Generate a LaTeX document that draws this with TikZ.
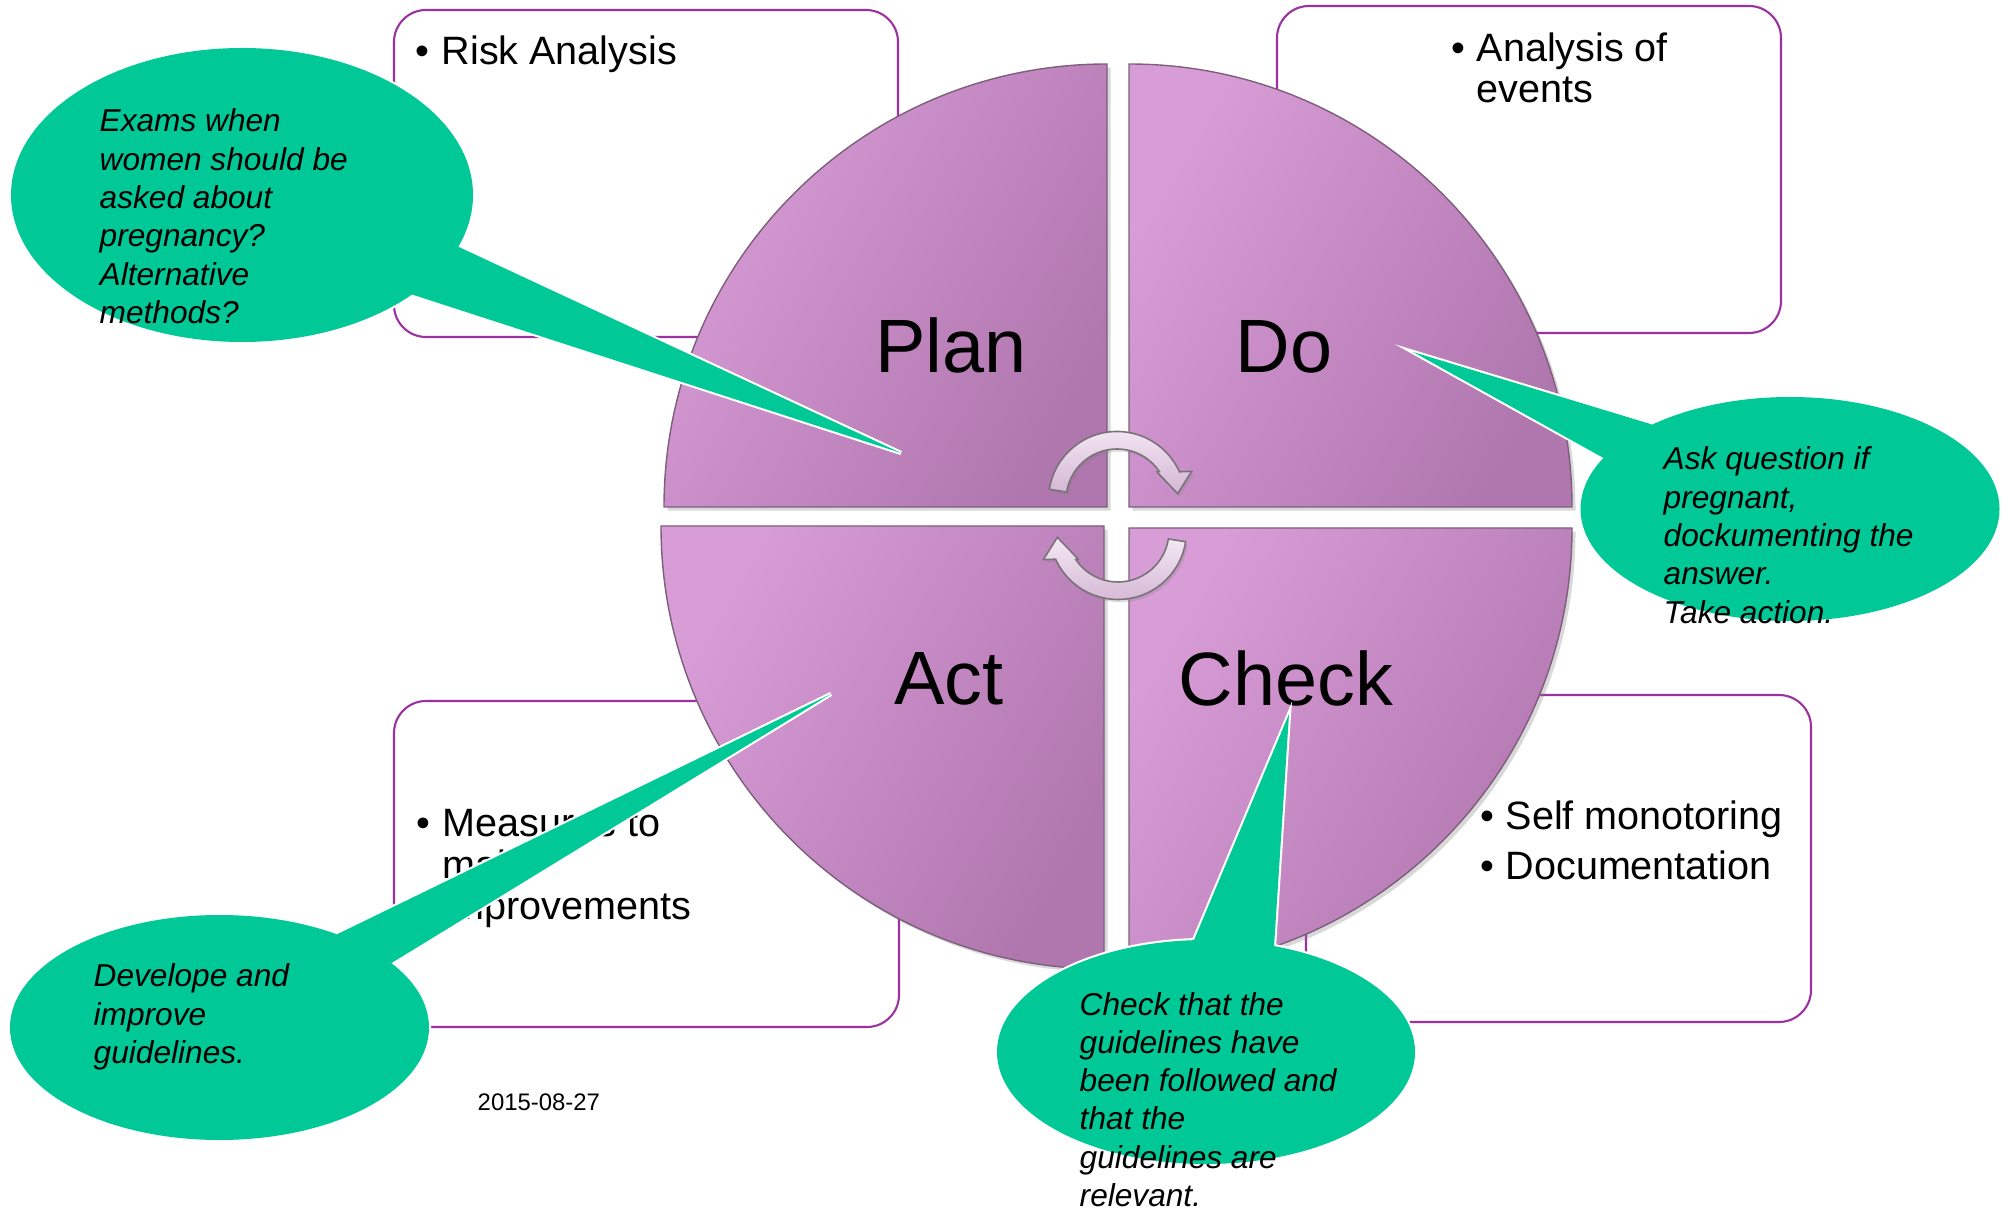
\documentclass[tikz,border=0pt]{standalone}
\usepackage{fontspec}
\setmainfont{Liberation Sans}
\usetikzlibrary{positioning, calc, shadows}

\definecolor{quadlight}{RGB}{216,156,214}
\definecolor{quaddark}{RGB}{176,118,174}
\definecolor{quadedge}{RGB}{125,95,125}
\definecolor{boxpurple}{RGB}{155,50,160}
\definecolor{callgreen}{RGB}{0,201,151}
\definecolor{arrowlight}{RGB}{244,232,244}
\definecolor{arrowdark}{RGB}{212,182,212}
\definecolor{arrowedge}{RGB}{120,115,120}

\newcommand{\textlines}[1]{\begin{tabular}[t]{@{}l@{}}#1\end{tabular}}
\newcommand{\itembullet}{\llap{\textbullet\hspace{.3em}}}

\begin{document}
\begin{tikzpicture}[
    x=0.01cm, y=-0.01cm,
    infobox/.style={draw=boxpurple, line width=0.6pt, fill=white, rounded corners=0.32cm},
    quadrant/.style={draw=quadedge, line width=0.4pt, top color=quadlight, bottom color=quaddark,
        shading angle=60, drop shadow={shadow xshift=1pt, shadow yshift=-1pt, opacity=0.3}},
    stagelabel/.style={anchor=base, inner sep=0pt, font=\fontsize{21.5}{24}\selectfont},
    boxtext/.style={anchor=base west, inner sep=0pt, font=\fontsize{11.25}{11.6}\selectfont},
    calltext/.style={anchor=base west, inner sep=0pt, font=\fontsize{9}{10.9}\selectfont\itshape},
    callfill/.style={fill=callgreen},
    calledge/.style={draw=white, line width=1.2pt},
    turnarrow/.style={draw=arrowedge, line width=0.45pt, top color=arrowlight, bottom color=arrowdark,
        drop shadow={shadow xshift=0.6pt, shadow yshift=-0.8pt, opacity=0.25}},
    cyclearrow/.pic={
      \path[turnarrow] (-171:68.5) arc[start angle=-171, end angle=-24.3, radius=68.5]
        -- (-21:80) -- (-6:61) -- (-35:48.8) -- (-34:51)
        arc[start angle=-34, end angle=-171, radius=51] -- cycle;
    }
]
  \useasboundingbox (0,0) rectangle (2012,1210);

  % Boxes
  \draw[infobox] (394,10) rectangle (898,337);
  \draw[infobox] (1277,6) rectangle (1781,333);
  \draw[infobox] (394,701) rectangle (899,1027);
  \draw[infobox] (1306,695) rectangle (1811,1022);

  \node[boxtext] (riskText) at (441,65) {\textlines{\itembullet Risk Analysis}};
  \node[boxtext] (eventText) at (1476,62) {\textlines{\itembullet Analysis of\\events}};
  \node[boxtext, font=\fontsize{11.25}{11.8}\selectfont] (measureText) at (442,837)
    {\textlines{\itembullet Measures to\\make\\improvements}};
  \node[boxtext, font=\fontsize{11.25}{14.2}\selectfont] (monitorText) at (1505,830)
    {\textlines{\itembullet Self monotoring\\\itembullet Documentation}};

  % Quadrants
  \path[quadrant] (1107,507) -- (1107,64) arc[start angle=-90, end angle=-180, radius=443] -- cycle;
  \path[quadrant] (1129,507) -- (1129,64) arc[start angle=-90, end angle=0, radius=443] -- cycle;
  \path[quadrant] (1104,526) -- (661,526) arc[start angle=180, end angle=90, radius=443] -- cycle;
  \path[quadrant] (1129,528) -- (1129,971) arc[start angle=90, end angle=0, radius=443] -- cycle;

  % Cycle arrows
  \pic at (1117,500) {cyclearrow};
  \pic[rotate=180] at (1118,531) {cyclearrow};

  \node[stagelabel] (plan) at (951,373) {Plan};
  \node[stagelabel] (do) at (1284,373) {Do};
  \node[stagelabel] (act) at (949,705) {Act};
  \node[stagelabel] (check) at (1286,706) {Check};

  % Callouts
  \coordinate (planBubble) at (242,195);
  \coordinate (planTip) at (901,453);
  \draw[calledge] (planBubble) ellipse [x radius=231, y radius=147];
  \draw[calledge] ($(planBubble)+(20.6:231 and 147)$) -- (planTip) -- ($(planBubble)+(42.6:231 and 147)$);
  \fill[callfill] (planBubble) ellipse [x radius=231, y radius=147];
  \fill[callfill] ($(planBubble)+(20.6:231 and 147)$) -- (planTip) -- ($(planBubble)+(42.6:231 and 147)$) -- cycle;

  \coordinate (doBubble) at (1790,509);
  \coordinate (doTip) at (1413,352);
  \draw[calledge] (doBubble) ellipse [x radius=209.5, y radius=112];
  \draw[calledge] ($(doBubble)+(228.9:209.5 and 112)$) -- (doTip) -- ($(doBubble)+(207.1:209.5 and 112)$);
  \fill[callfill] (doBubble) ellipse [x radius=209.5, y radius=112];
  \fill[callfill] ($(doBubble)+(228.9:209.5 and 112)$) -- (doTip) -- ($(doBubble)+(207.1:209.5 and 112)$) -- cycle;

  \coordinate (actBubble) at (219.5,1027.5);
  \coordinate (actTip) at (831,694);
  \draw[calledge] (actBubble) ellipse [x radius=209.5, y radius=112.5];
  \draw[calledge] ($(actBubble)+(-55.9:209.5 and 112.5)$) -- (actTip) -- ($(actBubble)+(-34.9:209.5 and 112.5)$);
  \fill[callfill] (actBubble) ellipse [x radius=209.5, y radius=112.5];
  \fill[callfill] ($(actBubble)+(-55.9:209.5 and 112.5)$) -- (actTip) -- ($(actBubble)+(-34.9:209.5 and 112.5)$) -- cycle;

  \coordinate (checkBubble) at (1206,1052);
  \coordinate (checkTip) at (1289,714);
  \draw[calledge] (checkBubble) ellipse [x radius=209, y radius=112];
  \draw[calledge] ($(checkBubble)+(-93.3:209 and 112)$) -- (checkTip) -- ($(checkBubble)+(-71:209 and 112)$);
  \fill[callfill] (checkBubble) ellipse [x radius=209, y radius=112];
  \fill[callfill] ($(checkBubble)+(-93.3:209 and 112)$) -- (checkTip) -- ($(checkBubble)+(-71:209 and 112)$) -- cycle;

  \node[calltext] (planNote) at (99,132)
    {\textlines{Exams when\\women should be\\asked about\\pregnancy?\\Alternative\\methods?}};
  \node[calltext] (doNote) at (1663,470)
    {\textlines{Ask question if\\pregnant,\\dockumenting the\\answer.\\Take action.}};
  \node[calltext] (actNote) at (93,987)
    {\textlines{Develope and\\improve\\guidelines.}};
  \node[calltext] (checkNote) at (1079,1015)
    {\textlines{Check that the\\guidelines have\\been followed and\\that the\\guidelines are\\relevant.}};

  \node[anchor=base west, inner sep=0pt, font=\fontsize{6.8}{8}\selectfont] (date) at (477,1110) {2015-08-27};

\end{tikzpicture}
\end{document}
